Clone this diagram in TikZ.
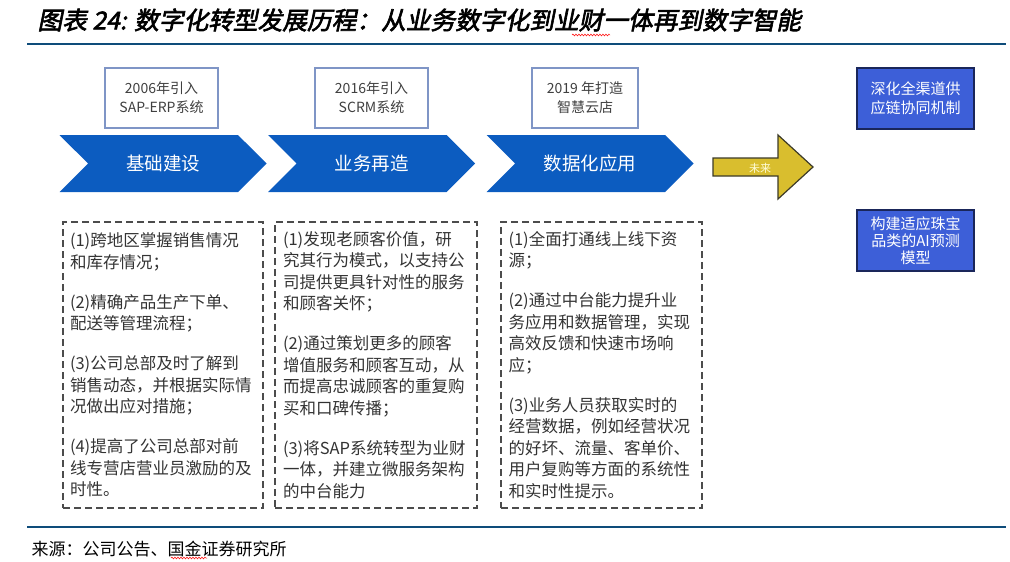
\documentclass[tikz,border=0pt]{standalone}
\usepackage{fontspec}
\usepackage{xcolor}
\usepackage{tikz}
\usetikzlibrary{calc, shapes.symbols, positioning, decorations.pathmorphing}

\setmainfont{Noto Sans CJK SC}
\newfontfamily\titlefont[FakeSlant=0.2, FakeBold=2.5]{Noto Sans CJK SC}

\definecolor{xanhdam}{RGB}{14,76,122}
\definecolor{xanhmui}{RGB}{12,92,192}
\definecolor{xanhhop}{RGB}{61,95,216}
\definecolor{vienhop}{RGB}{26,38,90}
\definecolor{vang}{RGB}{217,190,46}
\definecolor{vienvang}{RGB}{60,58,40}
\definecolor{vienxam}{RGB}{127,149,198}

\tikzset{
    moc/.style={draw=vienxam, line width=1.4pt, fill=white, minimum height=60pt,
        inner sep=0pt, align=center, text=black!75, font=\fontsize{14}{19}\selectfont},
    muiten/.style={signal, signal to=east, signal from=west, signal pointer angle=90,
        fill=xanhmui, minimum width=207pt, minimum height=57pt, inner sep=0pt,
        text=white, font=\fontsize{18.5}{22}\selectfont},
    khung/.style={draw=black!70, line width=1.2pt, dash pattern=on 7pt off 4pt,
        minimum height=286pt, inner sep=0pt, text width=186pt, align=left,
        text=black!80, font=\fontsize{16.5}{21.5}\selectfont},
    hopxanh/.style={draw=vienhop, line width=1.6pt, fill=xanhhop, minimum width=117pt,
        minimum height=61pt, inner sep=0pt, align=center, text=white},
    gachdo/.style={red, line width=0.5pt, decorate,
        decoration={snake, amplitude=0.9pt, segment length=3pt}}
}

\begin{document}
\begin{tikzpicture}[>=latex, x=1pt, y=-1pt]
    \useasboundingbox (0,0) rectangle (1010,562);

    % Tiêu đề
    \node[anchor=west, font=\titlefont\fontsize{24.7}{28}\selectfont] (tieude) at (34,20)
        {图表 24: 数字化转型发展历程：从业务数字化到业财一体再到数字智能};
    \draw[gachdo] (572,35) -- (610,35);
    \draw[xanhdam, line width=1.5pt] (27,44) -- (1006,44);

    % Các mốc thời gian
    \foreach \ten/\x/\w/\nhan in {moc1/161.5/113/{2006年引入\\SAP-ERP系统},
            moc2/371.5/113/{2016年引入\\SCRM系统}, moc3/585/106/{2019 年打造\\智慧云店}} {
        \node[moc, minimum width=\w pt] (\ten) at (\x,98) {\nhan};
    }

    % Các giai đoạn
    \foreach \ten/\x/\nhan in {gd1/163/基础建设, gd2/371.5/业务再造, gd3/590/数据化应用} {
        \node[muiten] (\ten) at (\x,163.5) {\nhan};
    }

    % Mũi tên tương lai
    \fill[vang, draw=vienvang, line width=1.2pt] (713,158) -- (778,158) -- (778,135)
        -- (813,167) -- (778,199) -- (778,176) -- (713,176) -- cycle;
    \node[text=yellow!15, font=\fontsize{11}{13}\selectfont] (tuonglai) at (760,168) {未来};

    % Hướng phát triển
    \node[hopxanh, font=\fontsize{15}{19}\selectfont] (huong1) at (915.5,98.5)
        {深化全渠道供\\应链协同机制};
    \node[hopxanh, font=\fontsize{15}{17}\selectfont] (huong2) at (915.5,240.5)
        {构建适应珠宝\\品类的AI预测\\模型};

    % Nội dung từng giai đoạn
    \node[khung, minimum width=200pt] (nd1) at (163,365) {%
        (1)跨地区掌握销售情况\\和库存情况；\\[18.5pt]
        (2)精确产品生产下单、\\配送等管理流程；\\[18.5pt]
        (3)公司总部及时了解到\\销售动态，并根据实际情\\况做出应对措施；\\[18.5pt]
        (4)提高了公司总部对前\\线专营店营业员激励的及\\时性。};
    \node[khung, minimum width=202pt] (nd2) at (376,365) {%
        (1)发现老顾客价值，研\\究其行为模式，以支持公\\司提供更具针对性的服务\\和顾客关怀；\\[18.5pt]
        (2)通过策划更多的顾客\\增值服务和顾客互动，从\\而提高忠诚顾客的重复购\\买和口碑传播；\\[18.5pt]
        (3)将SAP系统转型为业财\\一体，并建立微服务架构\\的中台能力};
    \node[khung, minimum width=201pt] (nd3) at (601.5,365) {%
        (1)全面打通线上线下资\\源；\\[18.5pt]
        (2)通过中台能力提升业\\务应用和数据管理，实现\\高效反馈和快速市场响\\应；\\[18.5pt]
        (3)业务人员获取实时的\\经营数据，例如经营状况\\的好坏、流量、客单价、\\用户复购等方面的系统性\\和实时性提示。};

    % Nguồn
    \draw[xanhdam, line width=1.5pt] (27,527) -- (1006,527);
    \node[anchor=west, font=\fontsize{17}{20}\selectfont] (nguon) at (28,549)
        {来源：公司公告、国金证券研究所};
    \draw[gachdo] (171,558) -- (207,558);
\end{tikzpicture}
\end{document}
